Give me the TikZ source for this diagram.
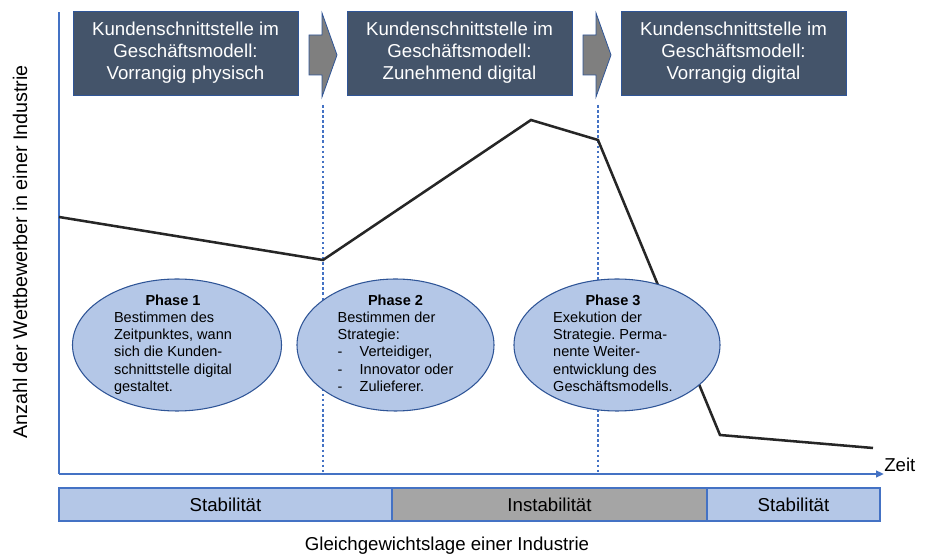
\documentclass[tikz,border=0pt]{standalone}
\usepackage{fontspec}
\setmainfont{Liberation Sans}
\usepackage{tikz}
\usetikzlibrary{arrows.meta,positioning,shapes.geometric}
\frenchspacing
\definecolor{boxCol}{HTML}{44546A}
\definecolor{edgeCol}{HTML}{2F5597}
\definecolor{axCol}{HTML}{4472C4}
\definecolor{phCol}{HTML}{B4C7E7}
\definecolor{chevCol}{HTML}{7F7F7F}
\definecolor{instCol}{HTML}{A5A5A5}
\tikzset{
  stage/.style={draw=edgeCol, line width=0.6pt, fill=boxCol, text=white, minimum width=168.75pt,
                minimum height=63pt, align=center, font=\fontsize{14}{16.5}\selectfont, inner sep=0pt},
  chev/.style={draw=edgeCol, fill=chevCol, line width=0.6pt, line join=miter},
  sep/.style={axCol, line width=1.9pt, dash pattern=on 1.9pt off 1.9pt},   % phase boundary
  axis/.style={axCol, line width=1.5pt},
  trend/.style={black!85, line width=1.9pt, line join=miter},              % number of competitors
  phase/.style={ellipse, draw=edgeCol, fill=phCol, line width=0.8pt, minimum height=99pt, inner sep=0pt},
  phtxt/.style={font=\fontsize{10.9}{12.8}\selectfont, inner sep=0pt},
  seg/.style={draw=axCol, line width=1.1pt, minimum height=24.75pt, font=\fontsize{14}{16}\selectfont,
              inner sep=0pt, outer sep=0pt},
  lbl/.style={font=\fontsize{14}{16}\selectfont, inner sep=0pt},
}
\newcommand{\chevron}[1]{\draw[chev] (#1,35) -- ++(13,0) -- ++(0,-22) -- ++(15,42) -- ++(-15,42) -- ++(0,-22) -- ++(-13,0) -- cycle;}
\newcommand{\phead}[1]{\multicolumn{1}{@{}c@{}}{\textbf{#1}}}
\newcommand{\itm}[1]{\makebox[16.5pt][l]{-}#1}

\begin{document}
\begin{tikzpicture}[x=0.75pt,y=-0.75pt]
  \useasboundingbox (0,0) rectangle (926,555);
  \def\Ox{59}\def\Oy{474}
  \def\Da{323}\def\Db{598}

  % axes
  \coordinate (o) at (\Ox,\Oy);
  \coordinate (ytop) at (\Ox,12);
  \coordinate (xend) at (884,\Oy);
  \draw[axis] (o) -- (ytop);
  \draw[axis,-{Triangle[length=6pt,width=5pt]}] (o) -- (xend);
  \node[lbl, anchor=west] (zeit) at (884,465) {Zeit};
  \node[lbl, rotate=90, font=\fontsize{14.8}{17}\selectfont] (ylab) at (20,252) {Anzahl der Wettbewerber in einer Industrie};

  \foreach \x in {\Da,\Db}{\draw[sep] (\x,105) -- (\x,\Oy);}
  \draw[trend] (\Ox,217) -- (\Da,260) -- (531,120) -- (\Db,140) -- (720,435) -- (873,448);

  % business model stages
  \node[stage] (k1) at (185.5,53) {Kundenschnittstelle im\\Geschäftsmodell:\\Vorrangig physisch};
  \node[stage] (k2) at (459.5,53) {Kundenschnittstelle im\\Geschäftsmodell:\\Zunehmend digital};
  \node[stage] (k3) at (733.5,53) {Kundenschnittstelle im\\Geschäftsmodell:\\Vorrangig digital};
  \chevron{309}\chevron{583}

  % phases
  \node[phase, minimum width=156.75pt] (e1) at (177,345) {};
  \node[phase, minimum width=147.75pt] (e2) at (395.5,345) {};
  \node[phase, minimum width=154.5pt] (e3) at (617,345) {};
  \node[phtxt] (t1) at ([xshift=-3pt]e1) {\begin{tabular}{@{}l@{}}\phead{Phase 1}\\Bestimmen des\\Zeitpunktes, wann\\sich die Kunden-\\schnittstelle digital\\gestaltet.\end{tabular}};
  \node[phtxt] (t2) at (e2) {\begin{tabular}{@{}l@{}}\phead{Phase 2}\\Bestimmen der\\Strategie:\\\itm{Verteidiger,}\\\itm{Innovator oder}\\\itm{Zulieferer.}\end{tabular}};
  \node[phtxt] (t3) at ([xshift=-3pt]e3) {\begin{tabular}{@{}l@{}}\phead{Phase 3}\\Exekution der\\Strategie. Perma-\\nente Weiter-\\entwicklung des\\Geschäftsmodells.\end{tabular}};

  % equilibrium bar
  \node[seg, fill=phCol, minimum width=249.75pt, anchor=north west] (s1) at (\Ox,488) {Stabilität};
  \node[seg, fill=instCol, minimum width=236.25pt, right=0pt of s1] (s2) {Instabilität};
  \node[seg, fill=phCol, minimum width=129.75pt, right=0pt of s2] (s3) {Stabilität};
  \node[lbl] (cap) at (447,546) {Gleichgewichtslage einer Industrie};
\end{tikzpicture}
\end{document}
